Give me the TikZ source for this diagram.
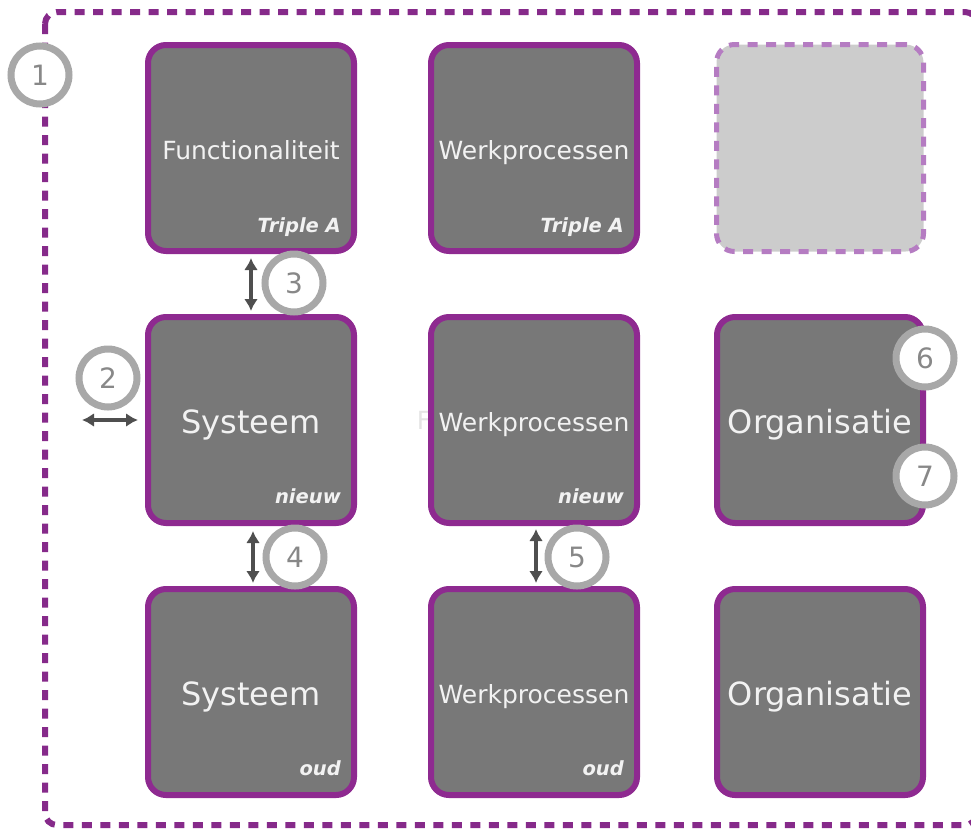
\documentclass[tikz,border=0pt]{standalone}
\usepackage{fontspec}
\setmainfont{DejaVu Sans}
\usetikzlibrary{arrows.meta}
\definecolor{boxfill}{HTML}{787878}
\definecolor{boxline}{HTML}{8E2A90}
\definecolor{outerline}{HTML}{862A8A}
\definecolor{ghostfill}{HTML}{CCCCCC}
\definecolor{ghostline}{HTML}{B57CC2}
\definecolor{ringcol}{HTML}{A8A8A8}
\definecolor{numcol}{HTML}{888888}
\definecolor{arrowcol}{HTML}{4F4F4F}
\definecolor{txtcol}{HTML}{F2F2F2}
\definecolor{faintcol}{HTML}{E4E4E4}
\begin{document}
\begin{tikzpicture}[x=1pt,y=-1pt,
  blok/.style={draw=boxline, line width=6pt, fill=boxfill, rounded corners=18pt,
    minimum width=206pt, minimum height=206pt, inner sep=0pt, outer sep=0pt,
    text=txtcol, text depth=0pt},
  smalltxt/.style={font=\fontsize{25}{29}\selectfont, text height=22pt},
  bigtxt/.style={font=\fontsize{32}{36}\selectfont, text height=26pt},
  sublabel/.style={text=txtcol, font=\fontsize{19.5}{22}\selectfont\bfseries\itshape,
    inner sep=0pt, anchor=base east},
  ghostblok/.style={draw=ghostline, line width=5pt, fill=ghostfill, rounded corners=18pt,
    dash pattern=on 10pt off 8.5pt, minimum width=207pt, minimum height=207pt,
    inner sep=0pt, outer sep=0pt},
  nummer/.style={circle, draw=ringcol, line width=7pt, fill=white, minimum size=58pt,
    inner sep=0pt, text=numcol, font=\fontsize{28}{30}\selectfont},
  pijl/.style={draw=arrowcol, line width=3.4pt,
    {Latex[length=12pt,width=14pt]}-{Latex[length=12pt,width=14pt]}}
]
\useasboundingbox (0,0) rectangle (971,828);
\clip (0,0) rectangle (971,828);
% outer dashed boundary
\draw[draw=outerline, line width=6pt, dash pattern=on 10pt off 8.5pt, rounded corners=12pt]
  (45,12) rectangle (977,825);

% faint remnant text
\node[text=faintcol, font=\fontsize{25}{29}\selectfont, inner sep=0pt] (ghostF) at (424,420) {F};

% boxes
\node[blok, smalltxt] (func) at (251,148) {Functionaliteit};
\node[blok, smalltxt] (werkA) at (534,148) {Werkprocessen};
\node[ghostblok] (leeg) at (820,148) {};

\node[blok, bigtxt] (sysN) at (251,420) {Systeem};
\node[blok, smalltxt] (werkN) at (534,420) {Werkprocessen};
\node[blok, bigtxt] (orgN) at (820,420) {Organisatie};

\node[blok, bigtxt] (sysO) at (251,692) {Systeem};
\node[blok, smalltxt] (werkO) at (534,692) {Werkprocessen};
\node[blok, bigtxt] (orgO) at (820,692) {Organisatie};

% sublabels
\node[sublabel] (lf) at ([xshift=-13pt,yshift=19pt]func.south east) {Triple A};
\node[sublabel] (lw) at ([xshift=-13pt,yshift=19pt]werkA.south east) {Triple A};
\node[sublabel] (ls) at ([xshift=-13pt,yshift=20pt]sysN.south east) {nieuw};
\node[sublabel] (lwn) at ([xshift=-13pt,yshift=20pt]werkN.south east) {nieuw};
\node[sublabel] (lso) at ([xshift=-13pt,yshift=20pt]sysO.south east) {oud};
\node[sublabel] (lwo) at ([xshift=-13pt,yshift=20pt]werkO.south east) {oud};

% arrows
\coordinate (links) at (82,420);
\draw[pijl, shorten >=10pt] (links) -- (sysN.west);
\draw[pijl, shorten <=7pt, shorten >=6pt] (func.south) -- (sysN.north);
\draw[pijl, shorten <=8pt, shorten >=6pt] ([xshift=2pt]sysN.south) -- ([xshift=2pt]sysO.north);
\draw[pijl, shorten <=6pt, shorten >=6pt] ([xshift=2pt]werkN.south) -- ([xshift=2pt]werkO.north);

% numbered circles
\node[nummer] (n1) at (40,75) {1};
\node[nummer] (n2) at (108,378) {2};
\node[nummer] (n3) at (294,283) {3};
\node[nummer] (n4) at (295,557) {4};
\node[nummer] (n5) at (577,557) {5};
\node[nummer] (n6) at (925,358) {6};
\node[nummer] (n7) at (925,476) {7};
\end{tikzpicture}
\end{document}
